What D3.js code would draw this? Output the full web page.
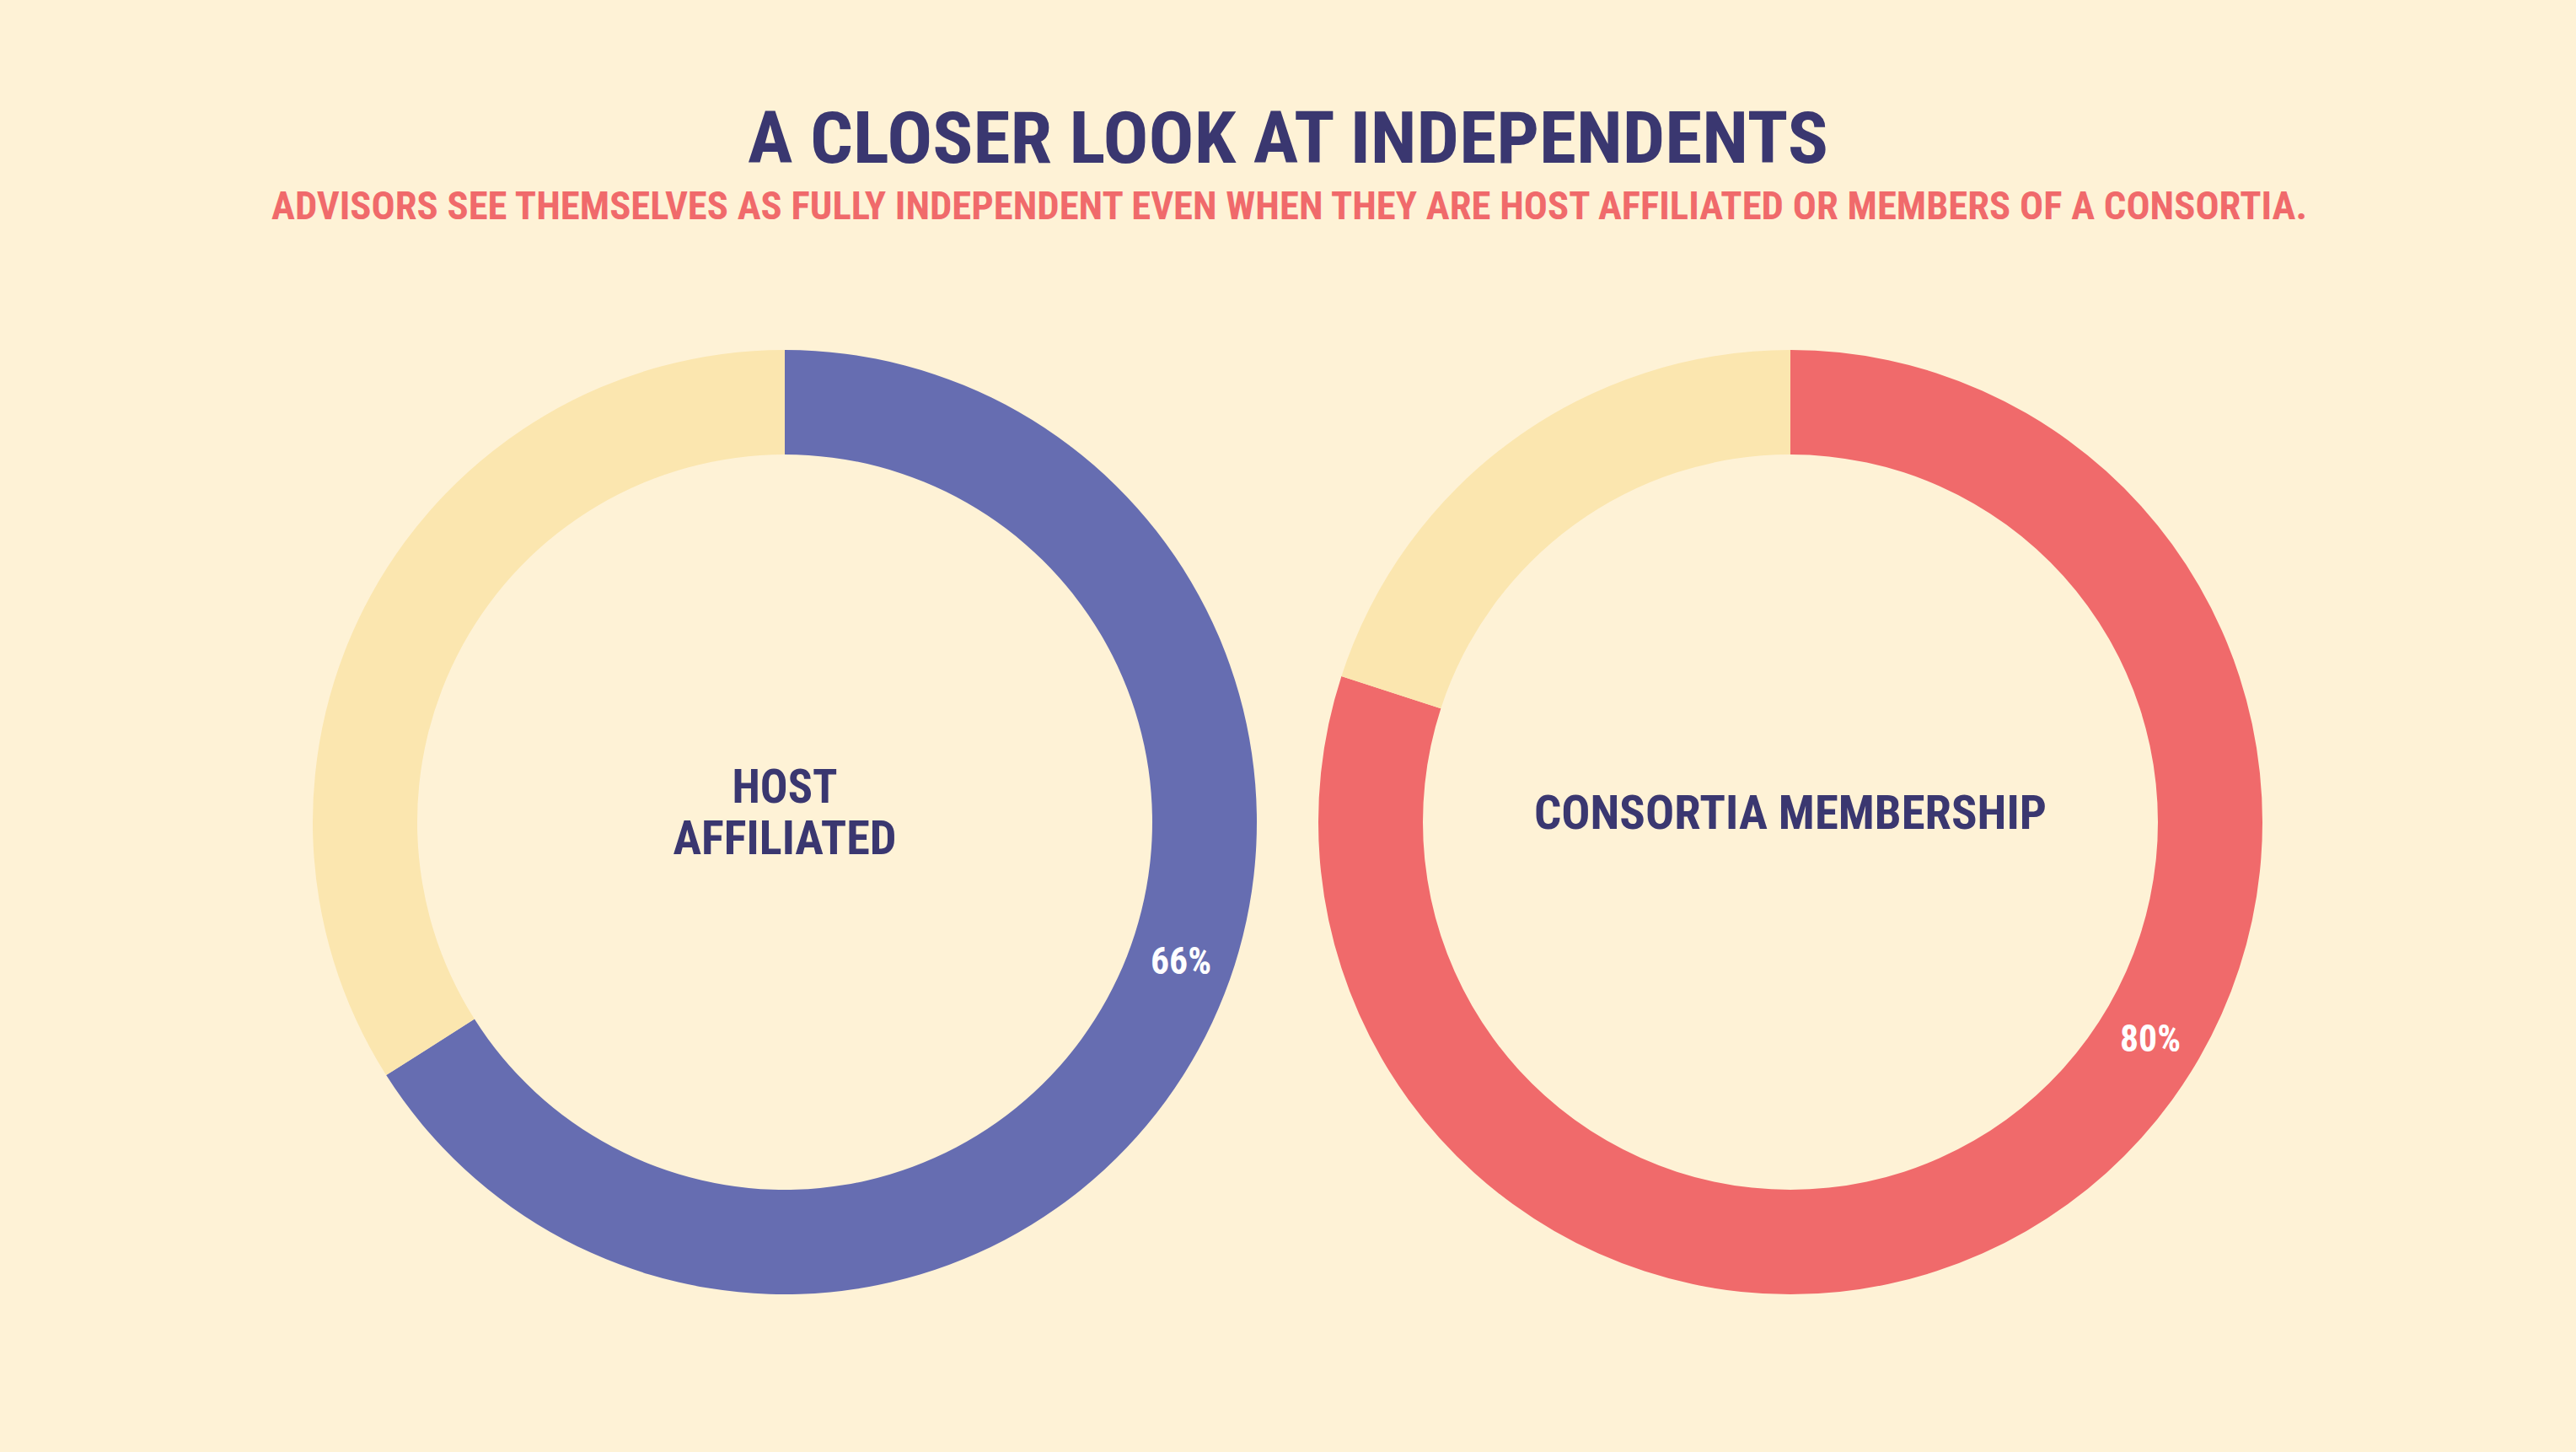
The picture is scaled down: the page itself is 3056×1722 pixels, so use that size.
<!DOCTYPE html>
<html>
<head>
<meta charset="utf-8">
<script src="https://cdn.jsdelivr.net/npm/d3@7"></script>
<style>
  html, body { margin: 0; padding: 0; background: #fef2d6; }
  svg { display: block; }
  text { font-family: 'Liberation Sans Narrow', 'Roboto Condensed', 'Arial Narrow', sans-serif; font-weight: bold; }
</style>
</head>
<body>
<div id="chart"></div>
<script>
// Chart data
const chartTitle = 'A CLOSER LOOK AT INDEPENDENTS';
const chartSubtitle = 'ADVISORS SEE THEMSELVES AS FULLY INDEPENDENT EVEN WHEN THEY ARE HOST AFFILIATED OR MEMBERS OF A CONSORTIA.';
const donutNames = [['HOST', 'AFFILIATED'], ['CONSORTIA MEMBERSHIP']];
const donutValues = [66, 80];
const donutColors = ['#666db1', '#f06a6b'];

/*
 * Layout
 */
const width = 3056;
const height = 1722;
const outerR = 560;
const innerR = 436;
const centersX = [931, 2124];
const centerY = 975;
// where along the coloured arc the % label sits (fraction of the arc)
const labelAt = [0.46, 0.42];

const svg = d3.select('#chart')
  .append('svg')
  .attr('width', width)
  .attr('height', height);

svg.append('rect')
  .attr('width', width)
  .attr('height', height)
  .attr('fill', '#fef2d6');

// Title and subtitle
svg.append('text')
  .attr('x', width / 2)
  .attr('y', 193)
  .attr('text-anchor', 'middle')
  .attr('font-size', 86)
  .attr('textLength', 1282)
  .attr('lengthAdjust', 'spacingAndGlyphs')
  .attr('fill', '#3a3770')
  .text(chartTitle);

svg.append('text')
  .attr('x', (322 + 2737) / 2)
  .attr('y', 260)
  .attr('text-anchor', 'middle')
  .attr('font-size', 46)
  .attr('textLength', 2415)
  .attr('lengthAdjust', 'spacingAndGlyphs')
  .attr('fill', '#f06a6b')
  .text(chartSubtitle);

const pie = d3.pie().sort(null).value((d) => d);
const arc = d3.arc().innerRadius(innerR).outerRadius(outerR);

donutValues.forEach((v, i) => {
  const g = svg.append('g')
    .attr('transform', 'translate(' + centersX[i] + ',' + centerY + ')');

  const slices = pie([v, 100 - v]);

  g.selectAll('path')
    .data(slices)
    .enter()
    .append('path')
    .attr('d', arc)
    .attr('fill', (d, j) => j === 0 ? donutColors[i] : '#fbe6af');

  // Percentage label inside the coloured arc
  const s = slices[0];
  const a = s.startAngle + labelAt[i] * (s.endAngle - s.startAngle);
  const pos = d3.arc().innerRadius((innerR + outerR) / 2).outerRadius((innerR + outerR) / 2)
    .centroid({startAngle: a, endAngle: a});
  g.append('text')
    .attr('x', pos[0])
    .attr('y', pos[1])
    .attr('dy', '0.36em')
    .attr('text-anchor', 'middle')
    .attr('font-size', 44)
    .attr('textLength', 72)
    .attr('lengthAdjust', 'spacingAndGlyphs')
    .attr('fill', '#ffffff')
    .text(v + '%');

  // Centre name
  const lines = donutNames[i];
  const widths = i === 0 ? [125, 265] : [608];
  const baselines = i === 0 ? [952 - centerY, 1013 - centerY] : [983 - centerY];
  lines.forEach((line, k) => {
    g.append('text')
      .attr('x', 0)
      .attr('y', baselines[k])
      .attr('text-anchor', 'middle')
      .attr('font-size', 56)
      .attr('textLength', widths[k])
      .attr('lengthAdjust', 'spacingAndGlyphs')
      .attr('fill', '#3a3770')
      .text(line);
  });
});
</script>
</body>
</html>
